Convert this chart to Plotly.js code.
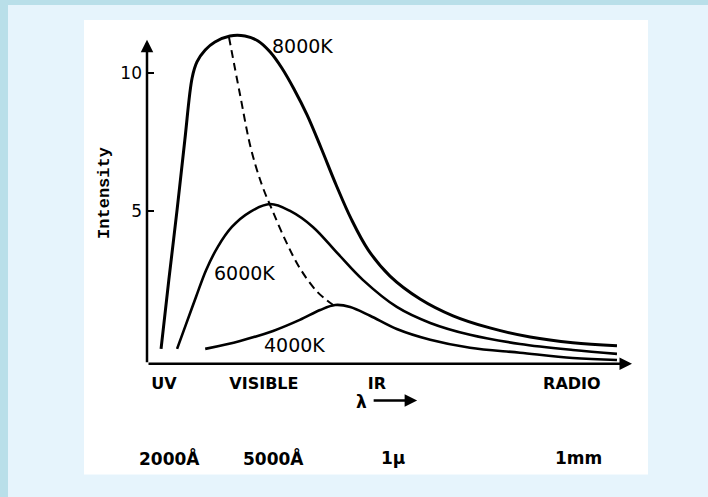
<!DOCTYPE html>
<html>
<head>
<meta charset="utf-8">
<script src="https://cdn.plot.ly/plotly-3.0.1.min.js"></script>
<style>html,body{margin:0;padding:0;background:#e6f4fc;}#chart{width:708px;height:497px;}</style>
</head>
<body>
<div id="chart"></div>
<script>
// Abstract wavelength position (0-100 along the λ axis) and intensity values
const x8000 = [2.9, 4.5, 6.2, 7.8, 9.3, 10.3, 12.0, 14.0, 17.1, 20.2, 22.9, 25.4, 27.8, 30.3, 33.0, 35.9, 39.0, 42.1, 45.6, 50.1, 56.3, 63.1, 70.7, 79.0, 87.8, 96.9];
const y8000 = [0.0, 2.50, 5.04, 7.57, 9.82, 10.40, 10.83, 11.12, 11.34, 11.34, 11.16, 10.76, 10.18, 9.42, 8.48, 7.28, 5.94, 4.71, 3.59, 2.64, 1.81, 1.20, 0.76, 0.43, 0.22, 0.11];

const x6000 = [6.2, 8.0, 10.1, 12.2, 14.6, 17.5, 21.2, 25.4, 29.5, 34.2, 39.4, 44.5, 51.5, 58.4, 66.6, 76.9, 87.8, 96.9];
const y6000 = [0.0, 0.87, 1.88, 2.86, 3.70, 4.42, 4.96, 5.25, 5.00, 4.42, 3.44, 2.50, 1.52, 0.94, 0.51, 0.18, -0.04, -0.18];

const x4000 = [12.0, 19.2, 26.0, 31.5, 35.7, 38.8, 41.9, 46.0, 51.5, 58.4, 66.6, 76.9, 87.8, 96.9];
const y4000 = [0.0, 0.29, 0.65, 1.05, 1.41, 1.59, 1.52, 1.20, 0.72, 0.33, 0.04, -0.14, -0.33, -0.40];

// Locus of the peaks (Wien displacement), dashed
const xPeak = [16.9, 19.2, 21.4, 23.7, 25.8, 28.5, 31.5, 35.1, 38.4];
const yPeak = [11.30, 9.20, 7.28, 5.94, 5.04, 3.95, 2.93, 2.07, 1.59];

// Curve labels
const curveLabels = ["8000K", "6000K", "4000K"];
const curveLabelX = [32.0, 20.0, 30.5];
const curveLabelY = [10.98, 2.75, 0.14];

// Region tick labels on the λ axis
const regionNames = ["UV", "VISIBLE", "IR", "RADIO"];
const regionPos = [3.5, 24.1, 47.4, 87.6];

// Wavelength scale labels below
const scaleNames = ["2000Å", "5000Å", "1μ", "1mm"];
const scalePos = [4.7, 26.0, 50.7, 88.9];

const yTicks = [5, 10];
const yMin = -0.62, yMax = 11.92, yAxisTop = 11.2;
const xMax = 100;

const black = "#000000";
const traces = [
  {x: x8000, y: y8000, mode: "lines", line: {color: black, width: 3, shape: "spline", smoothing: 1}, showlegend: false, hoverinfo: "skip"},
  {x: x6000, y: y6000, mode: "lines", line: {color: black, width: 2.6, shape: "spline", smoothing: 1}, showlegend: false, hoverinfo: "skip"},
  {x: x4000, y: y4000, mode: "lines", line: {color: black, width: 2.6, shape: "spline", smoothing: 1}, showlegend: false, hoverinfo: "skip"},
  {x: xPeak, y: yPeak, mode: "lines", line: {color: black, width: 2, dash: "8px,5px", shape: "spline", smoothing: 1}, showlegend: false, hoverinfo: "skip"}
];

const labelFont = {family: "DejaVu Sans", size: 19, color: black};
const annotations = [];
curveLabels.forEach((t, i) => annotations.push({
  x: curveLabelX[i], y: curveLabelY[i], xref: "x", yref: "y", text: t, showarrow: false,
  font: labelFont, xanchor: "center", yanchor: "middle"
}));
scaleNames.forEach((t, i) => annotations.push({
  x: scalePos[i], y: -0.266, xref: "x", yref: "paper", text: t, showarrow: false,
  font: {family: "DejaVu Sans", size: 17, color: black, weight: "bold"}, xanchor: "center", yanchor: "middle"
}));
// y axis with arrow
annotations.push({x: 0, y: yAxisTop, ax: 0, ay: yMin + 0.08, xref: "x", yref: "y", axref: "x", ayref: "y",
  text: "", showarrow: true, arrowhead: 2, arrowsize: 1, arrowwidth: 2.5, arrowcolor: black, standoff: 0});
// x axis with arrow
annotations.push({x: xMax, y: yMin + 0.08, ax: 0, ay: yMin + 0.08, xref: "x", yref: "y", axref: "x", ayref: "y",
  text: "", showarrow: true, arrowhead: 2, arrowsize: 1, arrowwidth: 2.5, arrowcolor: black, standoff: 0});
// λ →
annotations.push({x: 44.3, y: -0.104, xref: "x", yref: "paper", text: "λ", showarrow: false,
  font: {family: "DejaVu Sans", size: 17, color: black, weight: "bold"}, xanchor: "center", yanchor: "middle"});
annotations.push({x: 55.7, y: -0.1, xref: "x", yref: "paper", ax: -45, ay: 0, text: "", showarrow: true,
  arrowhead: 2, arrowsize: 1, arrowwidth: 2.5, arrowcolor: black, standoff: 0});

const layout = {
  width: 708, height: 497,
  margin: {l: 147, r: 76, t: 20, b: 131, pad: 0},
  paper_bgcolor: "#e6f4fc",
  plot_bgcolor: "#ffffff",
  showlegend: false,
  xaxis: {
    range: [0, xMax], showgrid: false, zeroline: false, showline: false,
    tickmode: "array", tickvals: regionPos, ticktext: regionNames, ticks: "",
    tickfont: {family: "DejaVu Sans", size: 16, color: black, weight: "bold"},
    ticklabelstandoff: 6, fixedrange: true
  },
  yaxis: {
    range: [yMin, yMax], showgrid: false, zeroline: false, showline: false,
    tickmode: "array", tickvals: yTicks, ticktext: yTicks.map(String),
    ticks: "inside", ticklen: 7, tickwidth: 2, tickcolor: black,
    tickfont: {family: "DejaVu Sans", size: 17, color: black},
    ticklabelstandoff: 4,
    title: {text: "Intensity", font: {family: "Liberation Mono", size: 17, color: black, weight: "bold"}, standoff: 6},
    fixedrange: true
  },
  shapes: [
    {type: "rect", xref: "paper", yref: "paper", x0: -0.1299, x1: 1.033, y0: -0.3136, y1: 1.0, fillcolor: "#ffffff", line: {width: 0}, layer: "below"},
    {type: "rect", xref: "paper", yref: "paper", x0: -0.31, x1: -0.2866, y0: -0.5, y1: 1.1, fillcolor: "#b9dfe9", line: {width: 0}, layer: "below"},
    {type: "rect", xref: "paper", yref: "paper", x0: -0.31, x1: 1.2, y0: 1.0434, y1: 1.1, fillcolor: "#b9dfe9", line: {width: 0}, layer: "below"}
  ],
  annotations: annotations
};

Plotly.newPlot("chart", traces, layout, {displayModeBar: false, staticPlot: true});
</script>
</body>
</html>
